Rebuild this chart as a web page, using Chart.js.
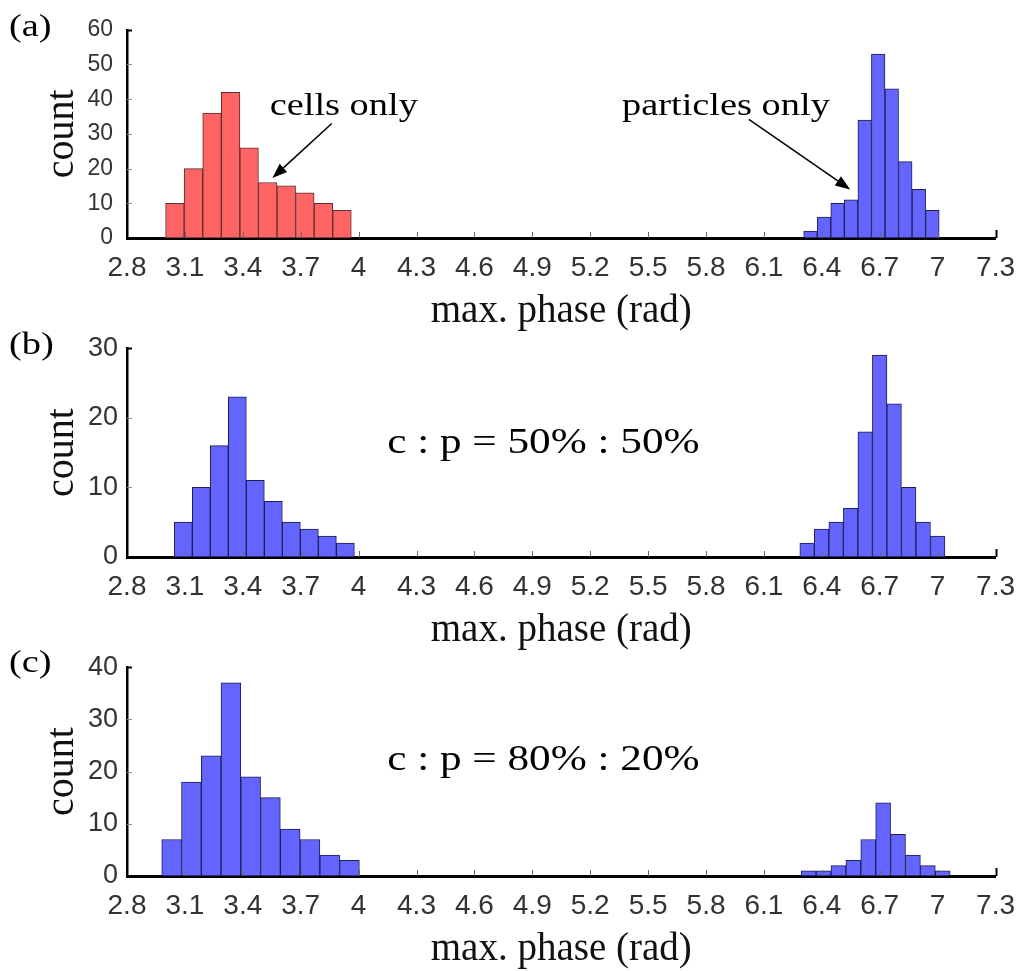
<!DOCTYPE html>
<html lang="en">
<head>
<meta charset="UTF-8">
<title>max. phase histograms</title>
<script src="https://cdn.jsdelivr.net/npm/chart.js@4.4.1/dist/chart.umd.min.js"></script>
<style>
    body { margin: 0; background: #fff; }
    #page { position: relative; width: 1028px; height: 971px; overflow: hidden; }
    .panel { position: absolute; left: 0; }
    .tag {
        position: absolute; left: 9px;
        font-family: 'Liberation Serif', serif; font-size: 32px; line-height: 1;
        transform: scaleX(1.2); transform-origin: left top; color: #000;
    }
</style>
</head>
<body>
<div id="page">
    <canvas id="chart-a" class="panel" width="1028" height="333" style="top:2px"></canvas>
    <canvas id="chart-b" class="panel" width="1028" height="331" style="top:323px"></canvas>
    <canvas id="chart-c" class="panel" width="1028" height="331" style="top:642px"></canvas>
    <div class="tag" style="top:9px">(a)</div>
    <div class="tag" style="top:327px">(b)</div>
    <div class="tag" style="top:645px">(c)</div>
</div>
<script>
// x axis tick values (rad)
const phaseTicks = [2.8, 3.1, 3.4, 3.7, 4, 4.3, 4.6, 4.9, 5.2, 5.5, 5.8, 6.1, 6.4, 6.7, 7, 7.3];

// (a) pure samples
const cellsOnly = [10, 20, 36, 42, 26, 16, 15, 13, 10, 8];
const cellsOnlyRange = [3.0, 3.962];
const particlesOnly = [2, 6, 10, 11, 34, 53, 43, 22, 14, 8];
const particlesOnlyRange = [6.306, 7.008];

// (b) c : p = 50% : 50%
const mix50Low = [5, 10, 16, 23, 11, 8, 5, 4, 3, 2];
const mix50LowRange = [3.045, 3.978];
const mix50High = [2, 4, 5, 7, 18, 29, 22, 10, 5, 3];
const mix50HighRange = [6.286, 7.038];

// (c) c : p = 80% : 20%
const mix80Low = [7, 18, 23, 37, 19, 15, 9, 7, 4, 3];
const mix80LowRange = [2.98, 4.004];
const mix80High = [1, 1, 2, 3, 7, 14, 8, 4, 2, 1];
const mix80HighRange = [6.293, 7.065];

const RED = '#ff6464', RED_EDGE = '#5a3030';
const BLUE = '#6464ff', BLUE_EDGE = '#1e1e50';

function binCenters(range, n) {
    const w = (range[1] - range[0]) / n;
    return Array.from({length: n}, (_, i) => range[0] + w * (i + 0.5));
}

function histPoints(counts, range) {
    const xs = binCenters(range, counts.length);
    return counts.map((c, i) => ({x: xs[i], y: c}));
}

// inward tick marks, matlab style
const tickMarks = {
    id: 'tickMarks',
    afterDatasetsDraw(chart) {
        const {ctx, chartArea: a, scales: {x, y}} = chart;
        ctx.save();
        x.ticks.forEach((t, i) => {
            if (i === 0) return;
            const last = i === x.ticks.length - 1;
            const px = Math.round(x.getPixelForValue(t.value)) + 0.5;
            ctx.strokeStyle = last ? '#000' : '#666';
            ctx.lineWidth = last ? 2 : 1;
            ctx.beginPath();
            ctx.moveTo(px, a.bottom);
            ctx.lineTo(px, a.bottom - (last ? 8 : 6));
            ctx.stroke();
        });
        y.ticks.forEach((t, i) => {
            if (i === 0) return;
            const last = i === y.ticks.length - 1;
            const py = Math.round(y.getPixelForValue(t.value)) + 0.5;
            ctx.strokeStyle = last ? '#000' : '#888';
            ctx.lineWidth = last ? 2 : 1;
            ctx.beginPath();
            ctx.moveTo(a.left, py);
            ctx.lineTo(a.left + 5, py);
            ctx.stroke();
        });
        ctx.restore();
    }
};

// text labels and arrows placed in data coordinates
const notes = {
    id: 'notes',
    afterDraw(chart, args, opts) {
        const {ctx, scales: {x, y}} = chart;
        ctx.save();
        (opts.labels || []).forEach(l => {
            ctx.save();
            ctx.translate(x.getPixelForValue(l.x), y.getPixelForValue(l.y));
            ctx.scale(1.2, 1);
            ctx.font = l.size + 'px "Liberation Serif"';
            ctx.fillStyle = '#000';
            ctx.textAlign = 'center';
            ctx.textBaseline = 'middle';
            ctx.fillText(l.text, 0, 0);
            ctx.restore();
        });
        (opts.arrows || []).forEach(ar => {
            const x0 = x.getPixelForValue(ar.from[0]), y0 = y.getPixelForValue(ar.from[1]);
            const x1 = x.getPixelForValue(ar.to[0]), y1 = y.getPixelForValue(ar.to[1]);
            const ang = Math.atan2(y1 - y0, x1 - x0);
            const len = 15, half = 5.5;
            ctx.strokeStyle = '#000';
            ctx.fillStyle = '#000';
            ctx.lineWidth = 1.5;
            ctx.beginPath();
            ctx.moveTo(x0, y0);
            ctx.lineTo(x1 - Math.cos(ang) * len, y1 - Math.sin(ang) * len);
            ctx.stroke();
            ctx.beginPath();
            ctx.moveTo(x1, y1);
            ctx.lineTo(x1 - Math.cos(ang) * len - Math.sin(ang) * half, y1 - Math.sin(ang) * len + Math.cos(ang) * half);
            ctx.lineTo(x1 - Math.cos(ang) * len + Math.sin(ang) * half, y1 - Math.sin(ang) * len - Math.cos(ang) * half);
            ctx.closePath();
            ctx.fill();
        });
        ctx.restore();
    }
};

function makePanel(id, p) {
    // each group sits on its own x axis so the bin widths can differ
    const barStyle = {
        borderWidth: 1, borderSkipped: false, grouped: false,
        barPercentage: 1, categoryPercentage: 1
    };
    return new Chart(document.getElementById(id), {
        type: 'bar',
        data: {
            datasets: [
                Object.assign({
                    data: histPoints(p.low, p.lowRange), xAxisID: 'x',
                    backgroundColor: p.lowFill, borderColor: p.lowEdge
                }, barStyle),
                Object.assign({
                    data: histPoints(p.high, p.highRange), xAxisID: 'x2',
                    backgroundColor: BLUE, borderColor: BLUE_EDGE
                }, barStyle)
            ]
        },
        options: {
            responsive: false,
            animation: false,
            layout: {padding: {top: 20, right: 26, left: 0, bottom: 0}},
            plugins: {
                legend: {display: false},
                tooltip: {enabled: false},
                notes: {labels: p.labels, arrows: p.arrows}
            },
            scales: {
                x: {
                    type: 'linear', min: 2.8, max: 7.3, offset: false,
                    afterBuildTicks: s => { s.ticks = phaseTicks.map(v => ({value: v})); },
                    ticks: {
                        autoSkip: false, maxRotation: 0, padding: 13, color: '#333',
                        font: {family: 'Liberation Sans', size: 28},
                        callback: v => String(v)
                    },
                    grid: {display: false, drawTicks: false},
                    border: {color: '#000', width: 3},
                    title: {
                        display: true, text: 'max. phase (rad)', color: '#111',
                        font: {family: 'Liberation Serif', size: 39},
                        padding: {top: 0, bottom: 0}
                    },
                    afterFit: s => { s.height = 97; }
                },
                x2: {type: 'linear', min: 2.8, max: 7.3, offset: false, display: false},
                y: {
                    min: 0, max: p.yMax,
                    ticks: {
                        stepSize: 10, padding: p.yPad, color: '#333',
                        font: {family: 'Liberation Sans', size: p.yFont}
                    },
                    grid: {display: false, drawTicks: false},
                    border: {color: '#000', width: 2.5},
                    title: {
                        display: true, text: 'count', color: '#111',
                        font: {family: 'Liberation Serif', size: 40},
                        padding: {top: 38, bottom: 0}
                    },
                    afterFit: s => { s.width = 127; }
                }
            }
        },
        plugins: [tickMarks, notes]
    });
}

makePanel('chart-a', {
    low: cellsOnly, lowRange: cellsOnlyRange, lowFill: RED, lowEdge: RED_EDGE,
    high: particlesOnly, highRange: particlesOnlyRange,
    yMax: 60, yFont: 23, yPad: 14,
    labels: [
        {text: 'cells only', x: 3.923, y: 37.9, size: 32},
        {text: 'particles only', x: 5.903, y: 37.9, size: 32}
    ],
    arrows: [
        {from: [3.861, 33.0], to: [3.553, 17.3]},
        {from: [6.022, 34.2], to: [6.547, 14.0]}
    ]
});

makePanel('chart-b', {
    low: mix50Low, lowRange: mix50LowRange, lowFill: BLUE, lowEdge: BLUE_EDGE,
    high: mix50High, highRange: mix50HighRange,
    yMax: 30, yFont: 27, yPad: 9,
    labels: [{text: 'c : p = 50% : 50%', x: 4.957, y: 16.36, size: 36}]
});

makePanel('chart-c', {
    low: mix80Low, lowRange: mix80LowRange, lowFill: BLUE, lowEdge: BLUE_EDGE,
    high: mix80High, highRange: mix80HighRange,
    yMax: 40, yFont: 27, yPad: 9,
    labels: [{text: 'c : p = 80% : 20%', x: 4.957, y: 22.2, size: 36}]
});
</script>
</body>
</html>
